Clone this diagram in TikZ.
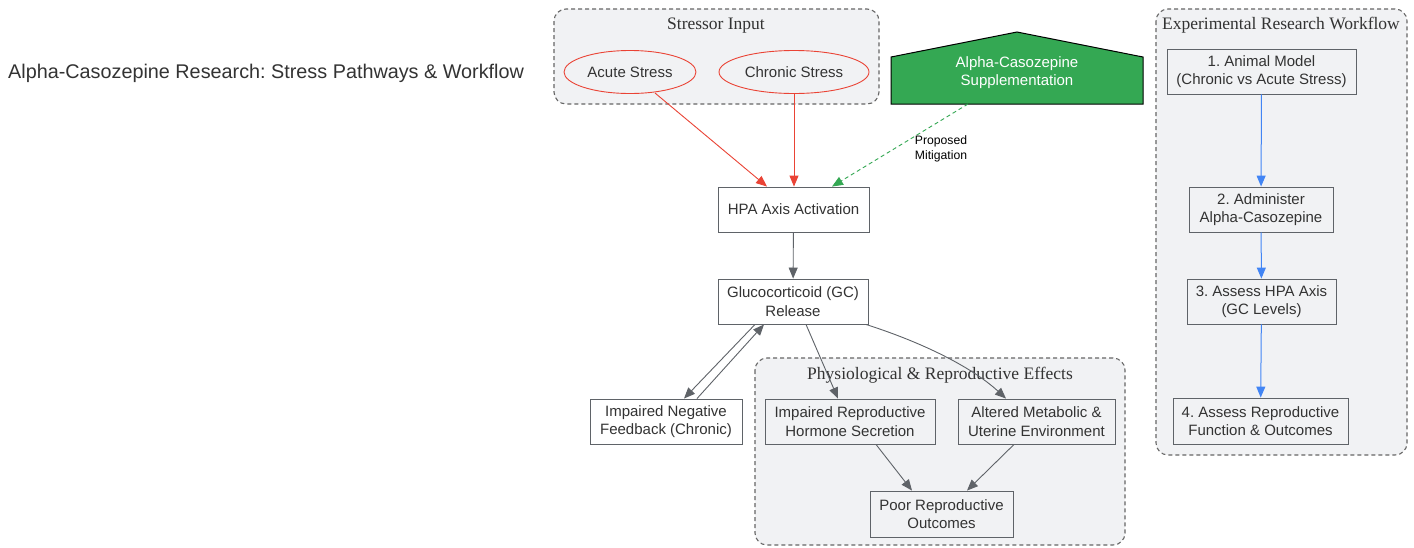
\documentclass[tikz,border=0pt]{standalone}
\usepackage{fontspec}
\setmainfont{Liberation Sans}
\newfontfamily\seriffont{Liberation Serif}
\usetikzlibrary{arrows.meta}
\frenchspacing
\definecolor{cred}{HTML}{EA4335}
\definecolor{cgray}{HTML}{5F6368}
\definecolor{cgreen}{HTML}{34A853}
\definecolor{cblue}{HTML}{4285F4}
\definecolor{cfill}{HTML}{F1F2F4}
\definecolor{ctext}{HTML}{333333}
\definecolor{cborder}{HTML}{666666}
\tikzset{
  cluster/.style={draw=cborder, dashed, dash pattern=on 4pt off 3pt, line width=1.1pt, fill=cfill, rounded corners=12pt},
  ctitle/.style={font=\seriffont\fontsize{17.5}{20}\selectfont, text=ctext},
  box/.style={draw=cgray, line width=0.9pt, fill=white, font=\fontsize{15}{18.5}\selectfont, text=ctext, align=center, inner sep=0pt},
  gbox/.style={box, fill=cfill},
  tip/.style={-{Triangle[length=11pt,width=9pt]}},
  garrow/.style={tip, draw=cgray, line width=0.9pt},
  rarrow/.style={tip, draw=cred, line width=0.9pt},
  barrow/.style={tip, draw=cblue, line width=1pt},
}
\begin{document}
\begin{tikzpicture}[x=1pt,y=-1pt]
\useasboundingbox (0,0) rectangle (1414,547);
\fill[white] (0,0) rectangle (1414,547);
% title
\node[anchor=west, font=\fontsize{19.8}{23}\selectfont, text=ctext, inner sep=0pt] (title) at (8,73) {Alpha-Casozepine Research: Stress Pathways \& Workflow};
% clusters
\draw[cluster] (554,9) rectangle (879,104);
\node[ctitle] (t1) at (716,26) {Stressor Input};
\draw[cluster] (755,358) rectangle (1125,545);
\node[ctitle] (t2) at (940,375) {Physiological \& Reproductive Effects};
\draw[cluster] (1156,9) rectangle (1407,455);
\node[ctitle] (t3) at (1281,25) {Experimental Research Workflow};
% stressors
\draw[cred, line width=0.9pt, fill=cfill] (630,72) ellipse [x radius=66, y radius=21.5];
\node[font=\fontsize{15}{18.5}\selectfont, text=ctext, inner sep=0pt, minimum width=132pt, minimum height=43pt] (acute) at (630,72.5) {Acute Stress};
\draw[cred, line width=0.9pt, fill=cfill] (794,72) ellipse [x radius=75, y radius=21.5];
\node[font=\fontsize{15}{18.5}\selectfont, text=ctext, inner sep=0pt, minimum width=150pt, minimum height=43pt] (chronic) at (794,72.5) {Chronic Stress};
% alpha house
\draw[black, line width=1pt, fill=cgreen] (891,104) -- (891,57) -- (1017,32) -- (1143,57) -- (1143,104) -- cycle;
\node[font=\fontsize{15}{18.5}\selectfont, text=white, align=center, inner sep=0pt] (alpha) at (1017,72.5) {Alpha-Casozepine\\Supplementation};
\coordinate (alphaout) at (968,104);
% main boxes
\node[box, minimum width=151pt, minimum height=45pt] (hpa) at (793.5,209.5) {HPA Axis Activation};
\node[box, minimum width=150pt, minimum height=45pt] (gc) at (793,301.5) {Glucocorticoid (GC)\\Release};
\node[box, minimum width=152pt, minimum height=45pt] (neg) at (666,421.5) {Impaired Negative\\Feedback (Chronic)};
\node[gbox, minimum width=170pt, minimum height=45pt] (repro) at (850,421.5) {Impaired Reproductive\\Hormone Secretion};
\node[gbox, minimum width=157pt, minimum height=45pt] (meta) at (1036.5,421.5) {Altered Metabolic \&\\Uterine Environment};
\node[gbox, minimum width=143pt, minimum height=46pt] (poor) at (941.5,514) {Poor Reproductive\\Outcomes};
% workflow boxes
\node[gbox, minimum width=189pt, minimum height=45pt] (w1) at (1261.5,71.5) {1. Animal Model\\(Chronic vs Acute Stress)};
\node[gbox, minimum width=144pt, minimum height=45pt] (w2) at (1261,209.5) {2. Administer\\Alpha-Casozepine};
\node[gbox, minimum width=149pt, minimum height=45pt] (w3) at (1261.5,301.5) {3. Assess HPA Axis\\(GC Levels)};
\node[gbox, minimum width=175pt, minimum height=46pt] (w4) at (1260.5,421) {4. Assess Reproductive\\Function \& Outcomes};
% edges
\coordinate (as) at (655,93);
\draw[rarrow] (as) -- (hpa.north -| 767,0);
\draw[rarrow] (chronic.south) -- (hpa.north -| chronic.south);
\draw[tip, draw=cgreen, line width=0.9pt, dashed, dash pattern=on 4pt off 3pt] (alphaout) -- (hpa.north -| 832,0);
\node[font=\fontsize{12.2}{14.5}\selectfont, align=center, text=black] (mitig) at (941,149) {Proposed\\Mitigation};
\draw[garrow] (hpa) -- (gc);
\draw[garrow] (gc.south -| 755,0) -- (neg.north -| 684,0);
\draw[garrow] (neg.north -| 697,0) -- (gc.south -| 764,0);
\draw[garrow] (gc.south -| 806,0) -- (repro.north -| 838,0);
\draw[garrow] (gc.south -| 866,0) .. controls (930,345) and (975,370) .. (meta.north -| 1006,0);
\draw[garrow] (repro.south -| 876,0) -- (poor.north -| 912,0);
\draw[garrow] (meta.south -| 1014,0) -- (poor.north -| 967,0);
\draw[barrow] (w1) -- (w2);
\draw[barrow] (w2) -- (w3);
\draw[barrow] (w3) -- (w4);
\end{tikzpicture}
\end{document}
